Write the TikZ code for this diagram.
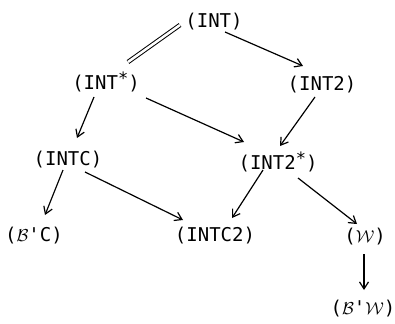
\documentclass[tikz,border=0pt]{standalone}
\usepackage{fontspec}
\setmonofont{DejaVu Sans Mono}
\usepackage{tikz}
\usetikzlibrary{arrows.meta}

\newcommand{\raisedstar}{\raisebox{5pt}{\fontsize{17}{17}\selectfont *}}

\tikzset{
  lattice/.style={font=\ttfamily\fontsize{19}{21}\selectfont, inner sep=0pt},
  link/.style={line width=1.2pt, -{Straight Barb[length=7pt, width=9pt]}}
}

\begin{document}
\begin{tikzpicture}[x=1pt, y=-1pt]
            \useasboundingbox (0,0) rectangle (395,323);

            % Nodes of the lattice
            \node[lattice] (int)     at (214,22)  {(INT)};
            \node[lattice] (intst)   at (106,82)  {(INT\raisedstar)};
            \node[lattice] (int2)    at (322,85)  {(INT2)};
            \node[lattice] (intc)    at (68,160)  {(INTC)};
            \node[lattice] (int2st)  at (278,162) {(INT2\raisedstar)};
            \node[lattice] (bc)      at (34,236)  {($\mathcal{B}$'C)};
            \node[lattice] (intc2)   at (215,236) {(INTC2)};
            \node[lattice] (w)       at (365,237) {($\mathcal{W}$)};
            \node[lattice] (bw)      at (363,309) {($\mathcal{B}$'$\mathcal{W}$)};

            % Equivalence
            \draw[line width=1pt, double, double distance=2.5pt]
              ([shift={(-34,3)}]int.center) -- ([shift={(22,-20)}]intst.center);

            % Arrows
            \draw[link] ([shift={(11,10)}]int.center) -- ([shift={(-19,-19)}]int2.center);
            \draw[link] ([shift={(-12,15)}]intst.center) -- ([shift={(9,-22)}]intc.center);
            \draw[link] ([shift={(40,16)}]intst.center) -- ([shift={(-34,-20)}]int2st.center);
            \draw[link] ([shift={(-7,12)}]int2.center) -- ([shift={(2,-16)}]int2st.center);
            \draw[link] ([shift={(-5,10)}]intc.center) -- ([shift={(11,-21)}]bc.center);
            \draw[link] ([shift={(17,12)}]intc.center) -- ([shift={(-32,-16)}]intc2.center);
            \draw[link] ([shift={(-15,8)}]int2st.center) -- ([shift={(17,-18)}]intc2.center);
            \draw[link] ([shift={(20,16)}]int2st.center) -- ([shift={(-8,-13)}]w.center);
            \draw[link] ([shift={(-1,17)}]w.center) -- ([shift={(1,-19)}]bw.center);
\end{tikzpicture}
\end{document}
